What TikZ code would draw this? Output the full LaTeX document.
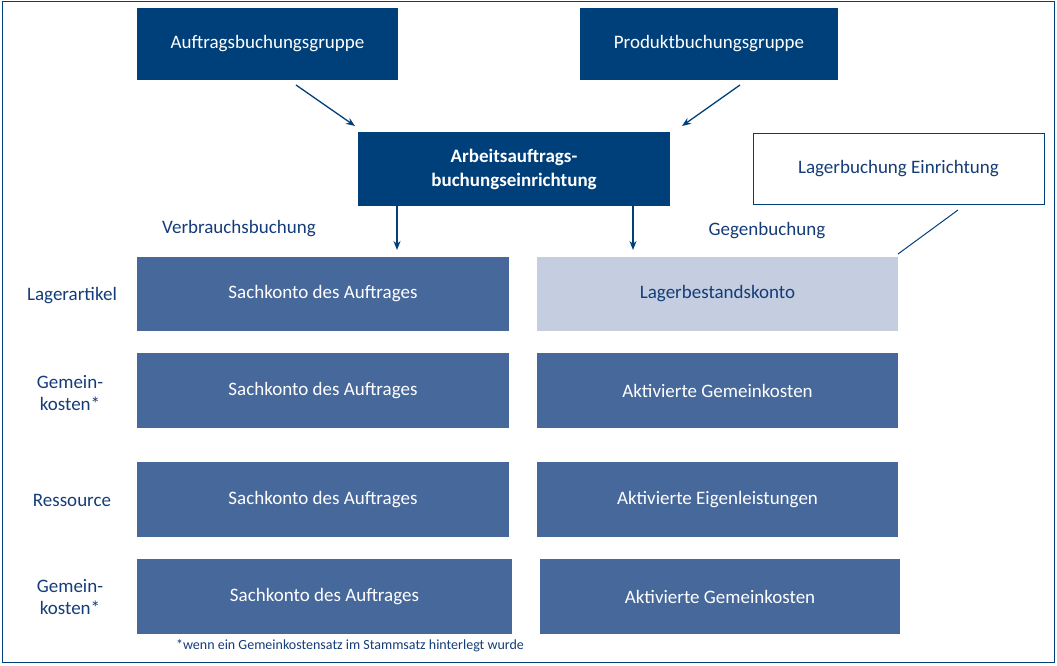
\documentclass[tikz,border=0pt]{standalone}
\usepackage{fontspec}
\setmainfont{Carlito}
\usetikzlibrary{arrows.meta}
\definecolor{dblue}{RGB}{0,64,122}
\definecolor{mblue}{RGB}{71,104,155}
\definecolor{lblue}{RGB}{197,206,224}
\definecolor{tblue}{RGB}{20,60,120}
\tikzset{
 top/.style={fill=dblue,text=white,font=\fontsize{19}{22}\selectfont},
 acc/.style={fill=mblue,text=white,font=\fontsize{19}{22}\selectfont},
 lbl/.style={text=tblue,font=\fontsize{19}{22}\selectfont,align=center},
 arr/.style={draw=dblue,line width=1.3pt,-{Stealth[length=9pt,width=7pt]}}
}
\begin{document}
\begin{tikzpicture}[x=1pt,y=-1pt]
\useasboundingbox (0,0) rectangle (1057,666);
\draw[dblue,line width=1pt] (2,2) rectangle (1054,662);
\node[top,minimum width=261,minimum height=72] (ag) at (267.5,44) {Auftragsbuchungsgruppe};
\node[top,minimum width=258,minimum height=72] (pg) at (709,44) {Produktbuchungsgruppe};
\node[top,minimum width=312,minimum height=74,align=center,font=\fontsize{19}{24}\selectfont\bfseries] (ae) at (514,169) {Arbeitsauftrags-\\buchungseinrichtung};
\node[draw=dblue,line width=1pt,fill=white,text=tblue,minimum width=291,minimum height=70,font=\fontsize{19}{22}\selectfont] (le) at (898.5,169) {Lagerbuchung Einrichtung};
\coordinate (a1) at (296,85); \coordinate (a2) at (355,126);
\coordinate (b1) at (740,85); \coordinate (b2) at (682,126);
\draw[arr] (a1) -- (a2);
\draw[arr] (b1) -- (b2);
\node[lbl] (vb) at (239,229) {Verbrauchsbuchung};
\node[lbl] (gb) at (767,231) {Gegenbuchung};
\node[acc,minimum width=372,minimum height=74] (l1) at (323,294) {Sachkonto des Auftrages};
\node[fill=lblue,text=tblue,font=\fontsize{19}{22}\selectfont,minimum width=361,minimum height=74] (r1) at (717.5,294) {Lagerbestandskonto};
\node[acc,minimum width=372,minimum height=75] (l2) at (323,390.5) {Sachkonto des Auftrages};
\node[acc,minimum width=361,minimum height=75] (r2) at (717.5,390.5) {Aktivierte Gemeinkosten};
\node[acc,minimum width=372,minimum height=75] (l3) at (323,499.5) {Sachkonto des Auftrages};
\node[acc,minimum width=361,minimum height=75] (r3) at (717.5,499.5) {Aktivierte Eigenleistungen};
\node[acc,minimum width=375,minimum height=75] (l4) at (324.5,596.5) {Sachkonto des Auftrages};
\node[acc,minimum width=360,minimum height=75] (r4) at (720,596.5) {Aktivierte Gemeinkosten};
\draw[arr] (ae.south -| 397,0) -- (397,250);
\draw[arr] (ae.south -| 633,0) -- (633,250);
\coordinate (c1) at (958,210); \coordinate (c2) at (898,254);
\draw[dblue,line width=1pt] (c1) -- (c2);
\node[lbl] (n1) at (72,296) {Lagerartikel};
\node[lbl] (n2) at (70,393) {Gemein-\\kosten*};
\node[lbl] (n3) at (72,500) {Ressource};
\node[lbl] (n4) at (70,597) {Gemein-\\kosten*};
\node[text=tblue,font=\fontsize{14}{16}\selectfont] (fn) at (350,646) {*wenn ein Gemeinkostensatz im Stammsatz hinterlegt wurde};
\end{tikzpicture}
\end{document}
